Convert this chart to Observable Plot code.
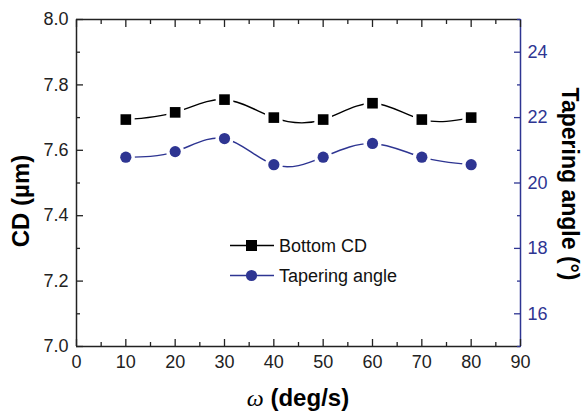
<!DOCTYPE html>
<html><head><meta charset="utf-8">
<script src="https://cdn.jsdelivr.net/npm/d3@7"></script>
<script src="https://cdn.jsdelivr.net/npm/@observablehq/plot@0.6"></script>
<style>
body{margin:0;background:#fff}
#c{position:relative;width:584px;height:411px;font-family:"Liberation Sans",Arial,sans-serif}
.leg{position:absolute;left:230px;font-size:18px;display:flex;align-items:center;line-height:1;color:#111}
.leg svg{margin-right:5px}
</style>
</head><body><div id="c"></div>
<script>
// ---- data ----
const omega = [10, 20, 30, 40, 50, 60, 70, 80];
const bottomCD = [7.694, 7.716, 7.755, 7.700, 7.694, 7.744, 7.694, 7.700];
const taperAngle = [20.79, 20.96, 21.36, 20.56, 20.79, 21.21, 20.79, 20.56];
const xMajor = [0, 10, 20, 30, 40, 50, 60, 70, 80, 90];
const xMinor = [5, 15, 25, 35, 45, 55, 65, 75, 85];
const cdMajor = [7.0, 7.2, 7.4, 7.6, 7.8, 8.0];
const cdMinor = [7.1, 7.3, 7.5, 7.7, 7.9];
const angleMajor = [16, 18, 20, 22, 24];
const angleMinor = [15, 17, 19, 21, 23, 25];
const cdRange = [7, 8];
const angleRange = [15, 25];
const seriesNames = ["Bottom CD", "Tapering angle"];

const BLUE = "#2e3592";
const toCD = a => cdRange[0] + (a - angleRange[0]) * (cdRange[1] - cdRange[0]) / (angleRange[1] - angleRange[0]);
const toAngle = c => angleRange[0] + (c - cdRange[0]) * (angleRange[1] - angleRange[0]) / (cdRange[1] - cdRange[0]);

const cdData = omega.map((x, i) => ({x, y: bottomCD[i]}));
const angData = omega.map((x, i) => ({x, y: toCD(taperAngle[i])}));

const plot = Plot.plot({
  width: 584, height: 411,
  marginLeft: 76, marginRight: 64, marginTop: 19, marginBottom: 65,
  style: {fontFamily: '"Liberation Sans", Arial, sans-serif', fontSize: "18px", background: "#fff", color: "#222"},
  x: {domain: [0, 90]},
  y: {domain: cdRange},
  marks: [
    // series
    Plot.line(cdData, {x: "x", y: "y", curve: "natural", stroke: "#000", strokeWidth: 1.4}),
    Plot.line(angData, {x: "x", y: "y", curve: "natural", stroke: BLUE, strokeWidth: 1.4}),
    Plot.dot(cdData, {x: "x", y: "y", symbol: "square", r: 6, fill: "#000", stroke: "#fff", strokeWidth: 7, paintOrder: "stroke"}),
    Plot.dot(angData, {x: "x", y: "y", symbol: "circle", r: 5.6, fill: BLUE, stroke: "#fff", strokeWidth: 7, paintOrder: "stroke"}),
    // frame lines
    Plot.ruleX([0], {stroke: "#222", strokeWidth: 1.5}),
    Plot.ruleY([cdRange[0]], {stroke: "#222", strokeWidth: 1.5}),
    Plot.ruleY([cdRange[1]], {stroke: "#222", strokeWidth: 1.5}),
    Plot.ruleX([90], {stroke: BLUE, strokeWidth: 1.5}),
    // left axis
    Plot.axisY(cdMajor, {anchor: "left", tickSize: 0, tickPadding: 8, tickFormat: d3.format(".1f"), fill: "#222", fontSize: 18, label: null}),
    Plot.axisY(cdMajor, {anchor: "left", tickSize: 7, dx: 7, fill: "none", stroke: "#222", strokeWidth: 1.3, label: null}),
    Plot.axisY(cdMinor, {anchor: "left", tickSize: 4, dx: 4, fill: "none", stroke: "#222", strokeWidth: 1.3, label: null}),
    // right axis (tapering angle)
    Plot.axisY(angleMajor.map(toCD), {anchor: "right", tickSize: 0, tickPadding: 7, tickFormat: d => Math.round(toAngle(d)), fill: BLUE, fontSize: 18, label: null}),
    Plot.axisY(angleMajor.map(toCD), {anchor: "right", tickSize: 7, dx: -7, fill: "none", stroke: BLUE, strokeWidth: 1.3, label: null}),
    Plot.axisY(angleMinor.map(toCD), {anchor: "right", tickSize: 4, dx: -4, fill: "none", stroke: BLUE, strokeWidth: 1.3, label: null}),
    // bottom axis
    Plot.axisX(xMajor, {anchor: "bottom", tickSize: 0, tickPadding: 9, fill: "#222", fontSize: 18, label: null}),
    Plot.axisX(xMajor, {anchor: "bottom", tickSize: 7, dy: -7, fill: "none", stroke: "#222", strokeWidth: 1.3, label: null}),
    Plot.axisX(xMinor, {anchor: "bottom", tickSize: 4, dy: -4, fill: "none", stroke: "#222", strokeWidth: 1.3, label: null}),
    // top axis (mirror ticks)
    Plot.axisX(xMajor, {anchor: "top", tickSize: 7, dy: 7, fill: "none", stroke: "#222", strokeWidth: 1.3, label: null}),
    Plot.axisX(xMinor, {anchor: "top", tickSize: 4, dy: 4, fill: "none", stroke: "#222", strokeWidth: 1.3, label: null})
  ]
});

const c = document.getElementById("c");
c.appendChild(plot);

// axis titles
const svg = d3.select(plot);
const tf = '"Liberation Sans", Arial, sans-serif';
svg.append("text")
  .attr("transform", "translate(29,201) rotate(-90)")
  .attr("text-anchor", "middle").attr("font-family", tf).attr("font-weight", "bold")
  .attr("font-size", 24).attr("fill", "#000").text("CD (\u00b5m)");
svg.append("text")
  .attr("transform", "translate(562,184) rotate(90)")
  .attr("text-anchor", "middle").attr("font-family", tf).attr("font-weight", "bold")
  .attr("font-size", 23).attr("fill", "#000").text("Tapering angle (\u00b0)");
const xt = svg.append("text")
  .attr("x", 298).attr("y", 406).attr("text-anchor", "middle")
  .attr("font-family", tf).attr("font-size", 24).attr("fill", "#000");
xt.append("tspan").attr("font-family", '"Liberation Serif", "DejaVu Serif", serif').attr("font-style", "italic").text("\u03c9");
xt.append("tspan").attr("font-weight", "bold").text(" (deg/s)");

// legend
const legendStyles = [
  {color: "#000", shape: "square"},
  {color: BLUE, shape: "circle"}
];
seriesNames.forEach((name, i) => {
  const d = document.createElement("div");
  d.className = "leg";
  d.style.top = (235 + i * 30) + "px";
  const s = legendStyles[i];
  const sym = s.shape === "square"
    ? `<rect x="16" y="5" width="11" height="11" fill="${s.color}"/>`
    : `<circle cx="21.5" cy="10.5" r="5.6" fill="${s.color}"/>`;
  d.innerHTML = `<svg width="44" height="21"><line x1="0" x2="44" y1="10.5" y2="10.5" stroke="${s.color}" stroke-width="1.4"/>${sym}</svg><span>${name}</span>`;
  c.appendChild(d);
});
</script>
</body></html>
